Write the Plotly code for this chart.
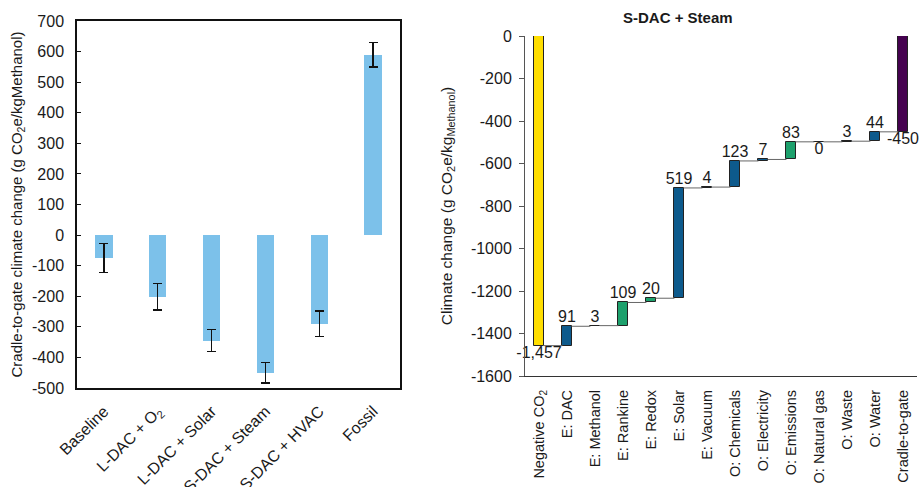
import plotly.graph_objects as go

# ---------------- data ----------------
scenarios = ["Baseline", "L-DAC + O<sub>2</sub>", "L-DAC + Solar",
             "S-DAC + Steam", "S-DAC + HVAC", "Fossil"]
scenario_values = [-75, -202, -345, -450, -290, 590]
scenario_errors = [47, 43, 36, 34, 42, 40]

stages = ["Negative CO<sub>2</sub>", "E: DAC", "E: Methanol", "E: Rankine",
          "E: Redox", "E: Solar", "E: Vacuum", "O: Chemicals",
          "O: Electricity", "O: Emissions", "O: Natural gas", "O: Waste",
          "O: Water", "Cradle-to-gate"]
stage_values = [-1457, 91, 3, 109, 20, 519, 4, 123, 7, 83, 0, 3, 44, -450]
stage_groups = ["capture", "energy", "energy", "heat", "heat", "energy",
                "energy", "energy", "energy", "heat", "energy", "energy",
                "energy", "total"]

left_ticks = [700, 600, 500, 400, 300, 200, 100, 0, -100, -200, -300, -400, -500]
right_ticks = [0, -200, -400, -600, -800, -1000, -1200, -1400, -1600]

# ---------------- styles ----------------
FONT = "Liberation Sans, Arial, sans-serif"
TXT = "#1a1a1a"
group_colors = {"capture": "#FFDE00", "energy": "#0D5A8C",
                "heat": "#1DA06C", "total": "#45024F"}
W, H = 919, 487

def px(x0, x1):
    return [x0 / W, x1 / W]

def py(top, bottom):
    return [1 - bottom / H, 1 - top / H]

fig = go.Figure()

# ---------------- left chart ----------------
fig.add_trace(go.Bar(
    x=scenarios, y=scenario_values, width=0.32,
    marker=dict(color="#7CC1EA", line=dict(width=0)),
    error_y=dict(type="data", array=scenario_errors, visible=True,
                 color="#111111", thickness=1.3, width=4.5),
    xaxis="x", yaxis="y", showlegend=False,
))

# ---------------- right chart (waterfall built from bars) ----------------
n = len(stage_values)
bases, heights, ends = [], [], []
cum = 0
for i, v in enumerate(stage_values):
    if i == 0:
        bases.append(0); heights.append(v); cum = v
    elif stage_groups[i] == "total":
        bases.append(0); heights.append(v)
    else:
        bases.append(cum); heights.append(v); cum = cum + v
    ends.append(bases[-1] + heights[-1])

bw = 0.33
xs = list(range(n))
fig.add_trace(go.Bar(
    x=xs, y=heights, base=bases, width=bw,
    marker=dict(color=[group_colors[g] for g in stage_groups],
                line=dict(color="#222222", width=1)),
    xaxis="x2", yaxis="y2", showlegend=False,
))

# connectors
cx, cy = [], []
for i in range(n - 1):
    level = ends[i]
    cx += [i + bw / 2, i + 1 - bw / 2, None]
    cy += [level, level, None]
fig.add_trace(go.Scatter(
    x=cx, y=cy, mode="lines", line=dict(color="#666666", width=1),
    xaxis="x2", yaxis="y2", showlegend=False, hoverinfo="skip",
))

# value labels
lab_pos = []
for i, v in enumerate(stage_values):
    if i == 0 or stage_groups[i] == "total" or v <= 0:
        lab_pos.append("bottom center")
    else:
        lab_pos.append("top center")
fig.add_trace(go.Scatter(
    x=xs, y=ends, mode="text", text=[f"{v:,}" for v in stage_values],
    textposition=lab_pos, textfont=dict(family=FONT, size=16, color=TXT),
    xaxis="x2", yaxis="y2", showlegend=False, cliponaxis=False,
    hoverinfo="skip",
))

# ---------------- layout ----------------
fig.update_layout(
    width=W, height=H,
    margin=dict(l=0, r=0, t=0, b=0, autoexpand=False),
    paper_bgcolor="white", plot_bgcolor="white",
    font=dict(family=FONT, size=15, color=TXT),
    bargap=0,
    xaxis=dict(domain=px(77, 400), showline=True, mirror=True,
               linecolor="#111111", linewidth=1.5, ticks="",
               tickangle=-45, showgrid=False, zeroline=False,
               ticklabelstandoff=6,
               tickfont=dict(size=16), automargin=False),
    yaxis=dict(domain=py(21, 388), range=[-500, 700],
               tickvals=left_ticks, ticktext=[str(t) for t in left_ticks],
               showline=True, mirror=True,
               linecolor="#111111", linewidth=1.5, ticks="inside",
               ticklen=4, tickcolor="#111111", showgrid=False,
               zeroline=False, ticklabelstandoff=8, automargin=False,
               tickfont=dict(size=16),
               title=dict(text="Cradle-to-gate climate change (g CO<sub>2</sub>e/kgMethanol)",
                          font=dict(size=15), standoff=6)),
    xaxis2=dict(domain=px(525, 917), range=[-0.5, n - 0.5],
                tickvals=xs, ticktext=stages, tickangle=-90,
                showline=True, linecolor="#333333", linewidth=1.3,
                ticks="", showgrid=False, zeroline=False, automargin=False,
                ticklabelstandoff=7,
                tickfont=dict(size=14.5), anchor="y2"),
    yaxis2=dict(domain=py(36, 376), range=[-1600, 0],
                tickvals=right_ticks, ticktext=[str(t) for t in right_ticks],
                showline=True, linecolor="#555555",
                linewidth=1, ticks="outside", ticklen=5,
                tickcolor="#555555", showgrid=False, zeroline=False,
                ticklabelstandoff=4,
                tickfont=dict(size=16), anchor="x2", automargin=False,
                title=dict(text="Climate change (g CO<sub>2</sub>e/kg<sub>Methanol</sub>)",
                           font=dict(size=15.5), standoff=14)),
    annotations=[dict(text="<b>S-DAC + Steam</b>", x=678 / W, y=1 - 17 / H,
                      xref="paper", yref="paper", showarrow=False,
                      xanchor="center", yanchor="middle",
                      font=dict(family=FONT, size=15, color=TXT))],
)

fig.write_html(
    "out.html",
    config={"displayModeBar": False},
    post_script="document.body.style.margin='0';document.body.style.overflow='hidden';",
)
